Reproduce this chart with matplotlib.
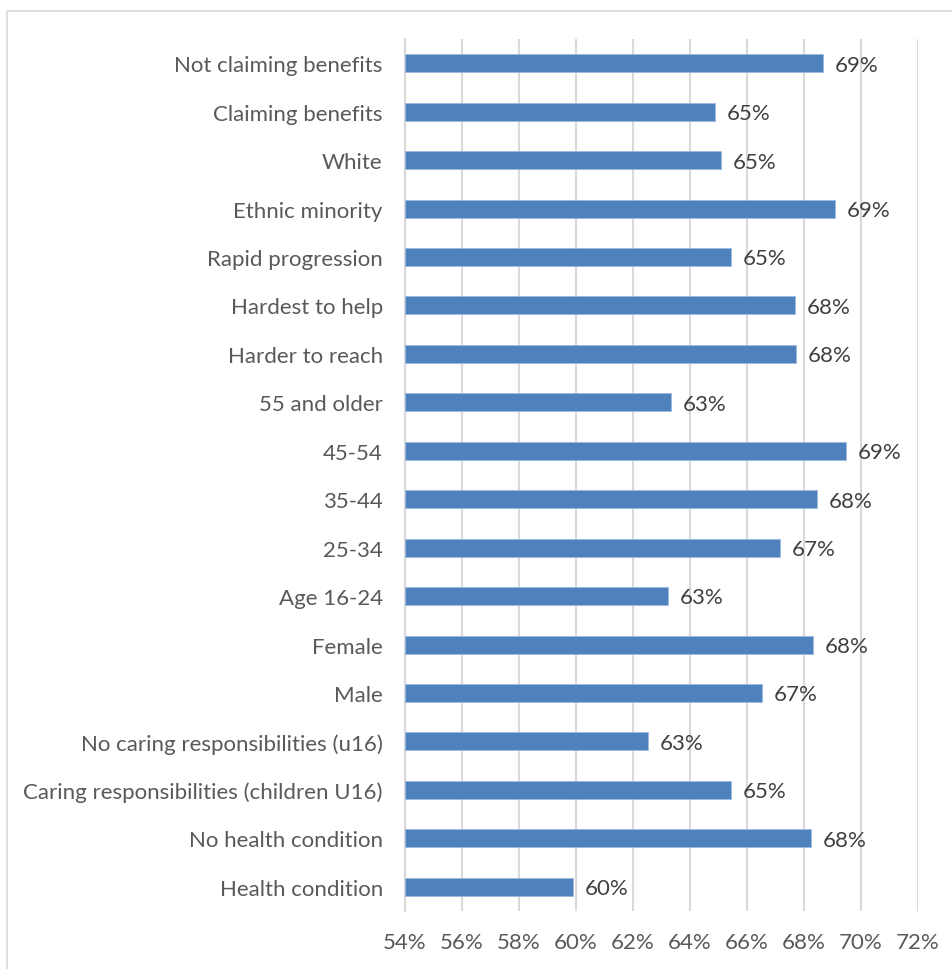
import matplotlib.pyplot as plt
from matplotlib.patches import Rectangle
from matplotlib.ticker import FuncFormatter

categories = [
    'Health condition',
    'No health condition',
    'Caring responsibilities (children U16)',
    'No caring responsibilities (u16)',
    'Male',
    'Female',
    'Age 16-24',
    '25-34',
    '35-44',
    '45-54',
    '55 and older',
    'Harder to reach',
    'Hardest to help',
    'Rapid progression',
    'Ethnic minority',
    'White',
    'Claiming benefits',
    'Not claiming benefits',
]
values = [59.88, 68.23, 65.43, 62.53, 66.53, 68.31, 63.24, 67.15, 68.44, 69.48,
          63.33, 67.73, 67.69, 65.45, 69.1, 65.09, 64.89, 68.67]
x_ticks = [54, 56, 58, 60, 62, 64, 66, 68, 70, 72]

plt.rcParams['font.family'] = ['Lato', 'DejaVu Sans']

fig = plt.figure(figsize=(9.52, 9.70), dpi=100)
ax = fig.add_axes([405 / 952, 1 - 912 / 970, 513 / 952, 872 / 970])

ypos = list(range(len(categories)))
ax.barh(ypos, [v - 54 for v in values], left=54, height=0.37,
        color='#4f81bd', edgecolor='#9dbbe0', linewidth=0.6, zorder=3)

for y, v in zip(ypos, values):
    ax.annotate(f'{v:.0f}%', (v, y), xytext=(8.5, -1), textcoords='offset points',
                ha='left', va='center', fontsize=16, color='#404040')

ax.set_xlim(54, 72)
ax.set_ylim(-0.5, len(categories) - 0.5)
ax.set_xticks(x_ticks)
ax.xaxis.set_major_formatter(FuncFormatter(lambda v, p: f'{v:.0f}%'))
ax.set_yticks(ypos)
ax.set_yticklabels(categories)
ax.tick_params(axis='both', length=0, labelsize=16, colors='#595959')
ax.tick_params(axis='x', pad=15)
ax.tick_params(axis='y', pad=16)
ax.grid(axis='x', color='#d9d9d9', linewidth=1.5, zorder=0)
for s in ['top', 'right', 'bottom']:
    ax.spines[s].set_visible(False)
ax.spines['left'].set_color('#d9d9d9')
ax.spines['left'].set_linewidth(1.5)

fig.patches.append(Rectangle((7 / 952, -0.1), 1.2, 1 - 12 / 970 + 0.1,
                             transform=fig.transFigure, fill=False,
                             edgecolor='#d9d9d9', linewidth=1.2))

plt.savefig('out.png', dpi=100)
